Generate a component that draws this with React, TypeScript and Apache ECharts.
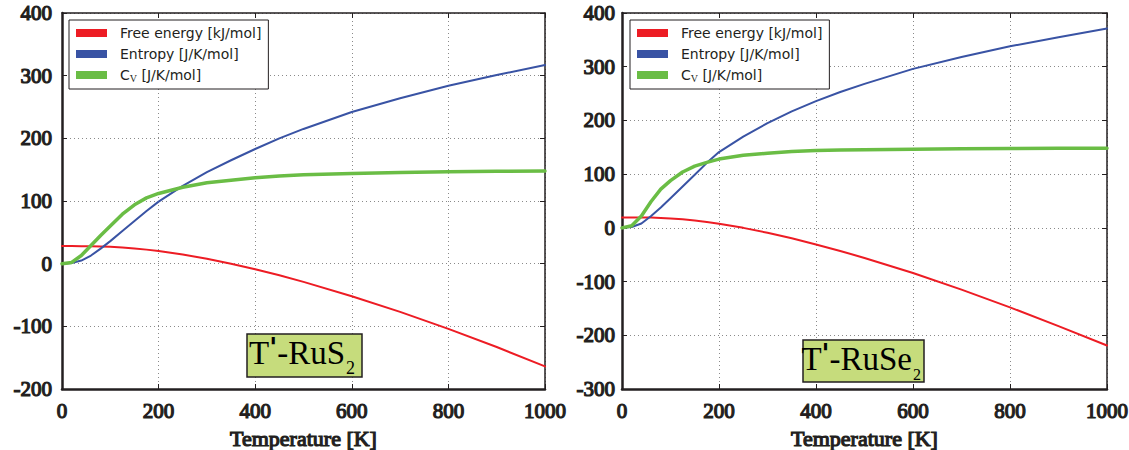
import React, { useEffect, useRef } from "react";
import * as echarts from "echarts";

// Temperatures [K]
const temperatures = [0, 20, 40, 60, 80, 100, 125, 150, 175, 200, 250, 300, 350, 400, 450, 500, 600, 700, 800, 900, 1000];

// T'-RuS2 (left panel)
const rus2FreeEnergy = [28, 28, 27.9, 27.8, 27.5, 26.9, 25.8, 24.3, 22.4, 20.2, 14.6, 7.8, -0.1, -8.8, -18.4, -29, -52, -77, -104, -133, -164];
const rus2Entropy = [0, 1, 5, 13, 24, 36, 52, 68, 84, 99, 124, 146, 165, 183, 200, 215, 242, 264, 284, 301, 317];
const rus2Cv = [0, 2, 13, 29, 45, 60, 79, 94, 105, 112, 122, 129, 133, 137, 140, 142, 144, 145.5, 146.5, 147.3, 148];

// T'-RuSe2 (right panel)
const ruse2FreeEnergy = [19.5, 19.5, 19.4, 19.1, 18.5, 17.6, 15.9, 13.7, 11, 7.8, 0, -9.2, -19.5, -31, -43, -56, -84, -115, -148, -183, -219];
const ruse2Entropy = [0, 1.5, 8, 22, 38, 55, 77, 99, 121, 141, 170, 195, 217, 236, 253, 268, 296, 318, 338, 355, 371];
const ruse2Cv = [0, 4, 22, 49, 72, 88, 104, 115, 122, 128, 135, 139, 142, 144, 145, 145.5, 146.5, 147.2, 147.7, 148.1, 148.4];

const seriesNames = ["Free energy [kJ/mol]", "Entropy [J/K/mol]", "CV [J/K/mol]"];
const seriesColors = ["#ed1c24", "#3953a4", "#6abd45"];
const seriesWidths = [2, 2, 3.5];

const xRange = { min: 0, max: 1000, interval: 200 };
const leftYRange = { min: -200, max: 400, interval: 100 };
const rightYRange = { min: -300, max: 400, interval: 100 };

const INK = "#231f20";
const SERIF = "'Liberation Serif', 'Times New Roman', Times, serif";

function pairs(values: number[]) {
  return temperatures.map((t, i) => [t, values[i]]);
}

export default function App() {
  const ref = useRef<HTMLDivElement>(null);

  useEffect(() => {
    const chart = echarts.init(ref.current!, null, { renderer: "svg" });

    const grids = [
      { left: 62, top: 13, width: 483, height: 376, containLabel: false, outerBoundsMode: "none" },
      { left: 622, top: 13, width: 485, height: 376, containLabel: false, outerBoundsMode: "none" },
    ];

    const boldSerif = {
      fontFamily: SERIF,
      fontWeight: "normal",
      fontSize: 21,
      color: INK,
      textBorderColor: INK,
      textBorderWidth: 1.2,
    };

    const xAxes: any[] = [];
    const yAxes: any[] = [];
    [0, 1].forEach((g) => {
      xAxes.push({
        type: "value",
        gridIndex: g,
        position: "bottom",
        ...xRange,
        name: "Temperature [K]",
        nameLocation: "middle",
        nameGap: 34,
        nameTextStyle: { ...boldSerif, fontSize: 22, lineHeight: 22 },
        axisLine: { show: true, onZero: false, lineStyle: { color: INK, width: 2.5 } },
        axisTick: { show: true, inside: true, length: 5, lineStyle: { color: INK, width: 1 } },
        axisLabel: { ...boldSerif, margin: 11, formatter: (v: number) => String(v) },
        splitLine: { show: true, lineStyle: { color: "#8a8a8a", type: [1, 3], width: 1 } },
      });
      xAxes.push({
        type: "value",
        gridIndex: g,
        position: "top",
        ...xRange,
        axisLine: { show: true, onZero: false, lineStyle: { color: INK, width: 1.5 } },
        axisTick: { show: true, inside: true, length: 5, lineStyle: { color: INK, width: 1 } },
        axisLabel: { show: false },
        splitLine: { show: false },
      });
      const yr = g === 0 ? leftYRange : rightYRange;
      yAxes.push({
        type: "value",
        gridIndex: g,
        position: "left",
        ...yr,
        axisLine: { show: true, onZero: false, lineStyle: { color: INK, width: 2.5 } },
        axisTick: { show: true, inside: true, length: 5, lineStyle: { color: INK, width: 1 } },
        axisLabel: { ...boldSerif, margin: g === 0 ? 10 : 7, formatter: (v: number) => String(v) },
        splitLine: { show: true, lineStyle: { color: "#8a8a8a", type: [1, 3], width: 1 } },
      });
      yAxes.push({
        type: "value",
        gridIndex: g,
        position: "right",
        ...yr,
        axisLine: { show: true, onZero: false, lineStyle: { color: INK, width: 1.5 } },
        axisTick: { show: true, inside: true, length: 5, lineStyle: { color: INK, width: 1 } },
        axisLabel: { show: false },
        splitLine: { show: false },
      });
    });

    const panelData = [
      [rus2FreeEnergy, rus2Entropy, rus2Cv],
      [ruse2FreeEnergy, ruse2Entropy, ruse2Cv],
    ];

    const series: any[] = [];
    panelData.forEach((arrs, g) => {
      arrs.forEach((vals, k) => {
        series.push({
          type: "line",
          name: seriesNames[k],
          xAxisIndex: g * 2,
          yAxisIndex: g * 2,
          data: pairs(vals),
          showSymbol: false,
          symbol: "none",
          smooth: false,
          color: seriesColors[k],
          lineStyle: { color: seriesColors[k], width: seriesWidths[k], join: "round", cap: "round" },
          z: 3 + k,
        });
      });
    });

    const legendBase = {
      orient: "vertical",
      top: 20,
      icon: "rect",
      itemWidth: 31,
      itemHeight: 8,
      itemGap: 7,
      selectedMode: false,
      backgroundColor: "#ffffff",
      borderColor: INK,
      borderWidth: 1,
      borderRadius: 0,
      padding: [6, 7, 6, 7],
      data: seriesNames,
      formatter: (name: string) =>
        name === seriesNames[2] ? "{a|C}{s|V}{a| [J/K/mol]}" : "{a|" + name + "}",
      textStyle: {
        fontFamily: "DejaVu Sans",
        fontSize: 14,
        padding: [0, 0, 0, 8],
        rich: {
          a: { fontFamily: "DejaVu Sans", fontSize: 14, color: INK, lineHeight: 16 },
          s: { fontFamily: SERIF, fontSize: 10, color: INK, lineHeight: 8, verticalAlign: "bottom" },
        },
      },
      z: 10,
    };

    const boxStyle = { fill: "#c6dc7c", stroke: INK, lineWidth: 1.5 };
    const mainRich = {
      t: { fontFamily: SERIF, fontSize: 33, color: "#000", lineHeight: 36 },
      p: {
        fontFamily: "DejaVu Sans",
        fontWeight: "bold",
        fontSize: 26,
        color: "#000",
        lineHeight: 33,
        verticalAlign: "top",
      },
    };

    const option: any = {
      animation: false,
      backgroundColor: "#ffffff",
      grid: grids,
      xAxis: xAxes,
      yAxis: yAxes,
      series,
      legend: [
        { ...legendBase, left: 69 },
        { ...legendBase, left: 630 },
      ],
      graphic: [
        { type: "rect", x: 247, y: 334, shape: { x: 0, y: 0, width: 115, height: 43 }, style: boxStyle, z: 20 },
        {
          type: "text",
          x: 345,
          y: 353,
          style: { text: "{t|T}{p|'}{t|-RuS}", rich: mainRich, align: "right", verticalAlign: "middle" },
          z: 21,
        },
        {
          type: "text",
          x: 346,
          y: 368,
          style: { text: "2", fontFamily: SERIF, fontSize: 18, fill: "#000", align: "left", verticalAlign: "middle" },
          z: 21,
        },
        { type: "rect", x: 803, y: 340, shape: { x: 0, y: 0, width: 121, height: 42 }, style: boxStyle, z: 20 },
        {
          type: "text",
          x: 912,
          y: 359,
          style: { text: "{t|T}{p|'}{t|-RuSe}", rich: mainRich, align: "right", verticalAlign: "middle" },
          z: 21,
        },
        {
          type: "text",
          x: 913,
          y: 374,
          style: { text: "2", fontFamily: SERIF, fontSize: 16, fill: "#000", align: "left", verticalAlign: "middle" },
          z: 21,
        },
      ],
    };

    chart.setOption(option);
    return () => chart.dispose();
  }, []);

  return <div ref={ref} style={{ position: "absolute", left: 0, top: 0, width: 1129, height: 450 }} />;
}
